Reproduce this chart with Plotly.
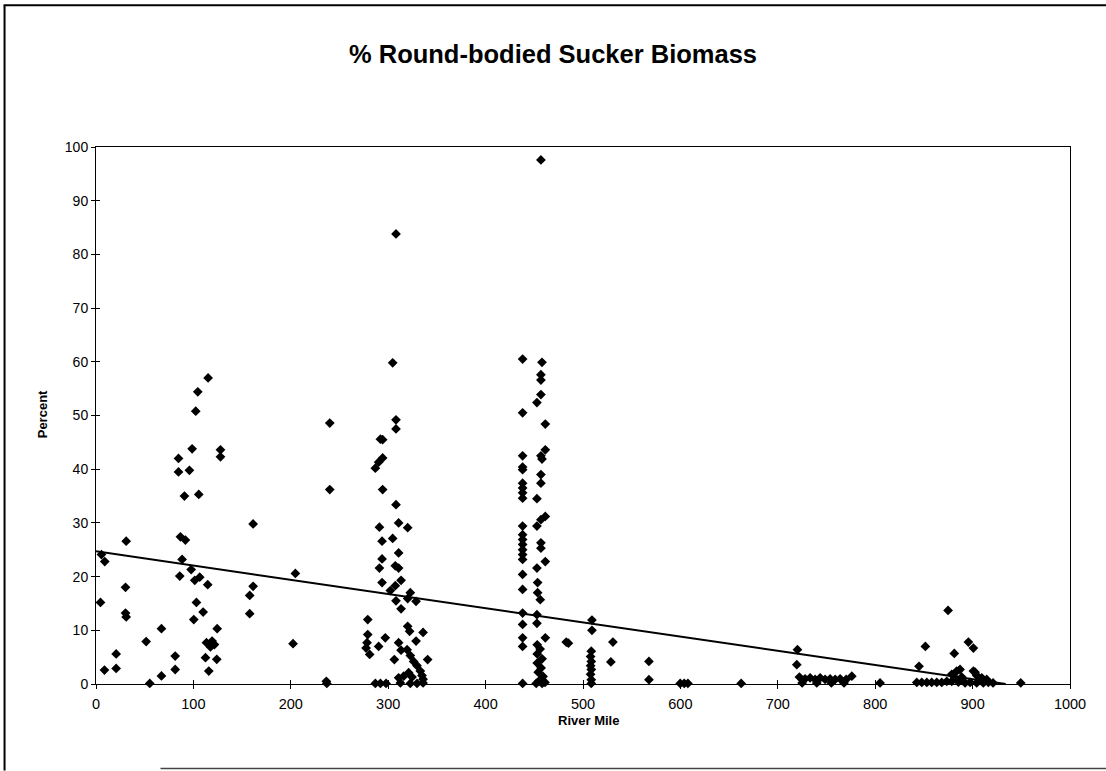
import plotly.graph_objects as go

# ---- data ----
river_mile = [
    5.6, 9, 4.6, 8.7, 20.7, 20.7, 31, 30.3, 30.3, 31, 51.5, 55.2, 67.2, 67.2, 81.3, 81.3,
    86, 86.7, 91.8, 88.4, 97.7, 101.4, 100.4, 103.1,
    115.1, 104.5, 102.4, 98.7, 127.8, 127.8, 84.7, 84.7, 95.9, 90.8, 105.5, 106.5, 114.7,
    110, 124.4, 113.4, 119.2, 121.6, 117.5, 112.4, 124, 115.8,
    161.3, 161.3, 157.8, 157.8,
    204.7, 202.3, 240, 240, 236.5, 237,
    308, 304.6, 308, 308, 292, 294.3, 294.3, 290.2, 286.8, 294.3, 308, 310.7, 320, 291,
    293.7, 304.6, 310.7, 293.7, 291, 307.3, 310.7, 293.7, 313.2, 307.3, 302.2, 322.7, 320,
    328.6, 308, 313.2, 279, 279, 278.3, 297, 320, 322, 335.8, 328.6, 290.2, 277.3, 281,
    310.7, 313.2, 319.4, 322.7, 326.1, 306.3, 340.5, 329.6, 333, 334.7, 310.7, 315.9, 321,
    324.5, 286.8, 292, 297.8, 312.5, 322.7, 329.6, 335.8, 335.8,
    438, 438, 438, 438, 438, 438, 438, 438, 438, 438, 438, 438, 438, 438, 438, 438, 438,
    438, 438, 438, 438, 438, 438,
    456.8, 457.9, 456.8, 456.8, 456.8, 452.7, 461.3, 461.3, 456.8, 457.9, 456.8, 456.8,
    452.7, 461.3, 456.8, 452.7, 456.8, 456.8, 461.3, 452.7, 453.4, 453.4, 456.1, 452.7,
    452.7, 461.3,
    453, 456, 453, 458, 453, 457, 454, 459, 455, 452, 458, 461,
    482.8, 485,
    509.2, 509.2, 530.7, 508.5, 507.8, 508.5, 507.8, 508.5, 507.8, 508.5, 508.5, 528.6,
    567.7, 567.7, 599.8, 603.9, 607.7, 662.4,
    720.2, 719.5, 722.2, 728, 733.2, 738.3, 743.5, 748.6, 753.7, 758.9, 764, 770.2, 776,
    725, 740, 755, 768, 805,
    845, 851.5, 874.8, 881.2, 895.7, 900.8, 887.1, 902.5, 842.7, 847.8, 853, 858, 863.2,
    868.3, 878.6, 883.7, 882, 888.9, 900.8, 904.2, 909.4, 914.5, 873.5, 878.6, 885.4,
    892.3, 897.4, 904.2, 911, 916.2, 921, 949.4,
]
percent = [
    24.1, 22.8, 15.2, 2.6, 5.6, 2.9, 26.6, 18, 13.2, 12.5, 7.9, 0.1, 1.5, 10.3, 5.2, 2.7,
    20.1, 27.4, 26.8, 23.2, 21.3, 19.3, 12.0, 15.2,
    57.0, 54.4, 50.8, 43.8, 43.6, 42.3, 42.0, 39.5, 39.8, 35.0, 35.3, 19.9, 18.5,
    13.4, 10.3, 7.7, 8.0, 7.35, 6.9, 4.9, 4.6, 2.4,
    29.8, 18.2, 16.5, 13.1,
    20.6, 7.5, 48.6, 36.2, 0.5, 0.1,
    83.8, 59.8, 49.2, 47.5, 45.6, 45.5, 42.1, 41.3, 40.2, 36.2, 33.4, 30.0, 29.1, 29.2,
    26.6, 27.1, 24.4, 23.3, 21.6, 22.0, 21.6, 18.9, 19.3, 18.3, 17.4, 17.0, 15.9,
    15.4, 15.5, 14.0, 12.0, 9.2, 7.7, 8.6, 10.75, 9.8, 9.6, 8.0, 7.0, 6.7, 5.5,
    7.7, 6.3, 6.4, 5.3, 4.2, 4.55, 4.55, 3.4, 2.4, 1.6, 1.15, 1.45, 2.1,
    1.3, 0.1, 0.1, 0.1, 0.2, 0.1, 0.1, 0.2, 0.9,
    60.5, 50.5, 42.5, 40.4, 39.9, 37.4, 36.5, 35.6, 34.6, 29.4, 27.8, 26.9, 26.0, 25.0,
    24.1, 23.2, 20.4, 17.6, 13.2, 11.1, 8.6, 7.0, 0.1,
    97.6, 59.9, 57.6, 56.6, 53.9, 52.4, 48.4, 43.6, 42.5, 41.9, 39.0, 37.4,
    34.5, 31.2, 30.6, 29.4, 26.3, 25.3, 22.8, 21.6, 18.9, 17.0, 15.7, 12.9,
    11.3, 8.6,
    7.3, 6.5, 5.6, 4.7, 3.9, 3.0, 2.2, 1.4, 0.6, 0.1, 0.1, 0.3,
    7.8, 7.6,
    11.9, 10.0, 7.8, 6.1, 5.1, 4.2, 3.4, 2.7, 1.8, 0.8, 0.1, 4.1,
    4.2, 0.8, 0.1, 0.1, 0.1, 0.1,
    6.4, 3.6, 1.3, 0.97, 1.15, 0.84, 1.15, 0.84, 0.97, 0.84, 0.97, 0.84, 1.45,
    0.2, 0.2, 0.2, 0.2, 0.2,
    3.3, 7.0, 13.7, 5.7, 7.8, 6.7, 2.7, 2.2, 0.3, 0.3, 0.3, 0.3, 0.3,
    0.3, 1.8, 2.4, 1.15, 1.3, 2.4, 1.6, 1.15, 0.84, 0.5, 0.5, 0.35,
    0.2, 0.3, 0.2, 0.2, 0.3, 0.2, 0.2,
]
trend_mile = [0, 934]
trend_percent = [24.7, 0.0]

x_ticks = list(range(0, 1001, 100))
y_ticks = list(range(0, 101, 10))

FONT = "Liberation Sans, Arial, sans-serif"

# plot-area placement in page pixels
L, R, T, B = 95.5, 1070, 147, 684.5
PW, PH = R - L, B - T


def px(xpix):
    return (xpix - L) / PW


def py(ypix):
    return (B - ypix) / PH


fig = go.Figure()
fig.add_trace(go.Scatter(
    x=river_mile, y=percent, mode="markers",
    marker=dict(symbol="diamond", size=7.5, color="black", line=dict(width=0)),
    cliponaxis=False, showlegend=False, hoverinfo="x+y"))
fig.add_trace(go.Scatter(
    x=trend_mile, y=trend_percent, mode="lines",
    line=dict(color="black", width=2), showlegend=False, hoverinfo="skip"))
# invisible trace on overlay axes (used for the inner half of the cross ticks)
fig.add_trace(go.Scatter(
    x=[500], y=[50], xaxis="x2", yaxis="y2", mode="markers",
    marker=dict(opacity=0), showlegend=False, hoverinfo="skip"))

axis_common = dict(showgrid=False, zeroline=False, color="black")

fig.update_layout(
    width=1106, height=771, autosize=False,
    margin=dict(l=L, r=1106 - R, t=T, b=771 - B),
    paper_bgcolor="white", plot_bgcolor="white",
    font=dict(family=FONT, color="black"),
    title=dict(text="<b>% Round-bodied Sucker Biomass</b>",
               font=dict(family=FONT, size=25.5, color="black"),
               x=0.5, xref="container", xanchor="center",
               y=1 - 54 / 771, yref="container", yanchor="middle"),
    xaxis=dict(range=[0, 1000], tickvals=x_ticks, ticks="outside", ticklen=4,
               tickwidth=1, tickcolor="black", showline=True, linecolor="black",
               linewidth=1, mirror=True, tickfont=dict(family=FONT, size=14.5),
               ticklabelstandoff=3, **axis_common),
    yaxis=dict(range=[0, 100], tickvals=y_ticks, ticks="outside", ticklen=4,
               tickwidth=1, tickcolor="black", showline=True, linecolor="black",
               linewidth=1, mirror=True, tickfont=dict(family=FONT, size=14),
               **axis_common),
    xaxis2=dict(overlaying="x", matches="x", anchor="y2", side="bottom",
                tickvals=x_ticks, ticks="inside", ticklen=4, tickwidth=1,
                tickcolor="black", showticklabels=False, showline=False,
                **axis_common),
    yaxis2=dict(overlaying="y", matches="y", anchor="x2", side="left",
                tickvals=y_ticks, ticks="inside", ticklen=4, tickwidth=1,
                tickcolor="black", showticklabels=False, showline=False,
                **axis_common),
    annotations=[
        dict(text="<b>Percent</b>", xref="paper", yref="paper",
             x=px(42), y=py(415), textangle=-90, showarrow=False,
             font=dict(family=FONT, size=13, color="black"),
             xanchor="center", yanchor="middle"),
        dict(text="<b>River Mile</b>", xref="paper", yref="paper",
             x=px(588), y=py(721), showarrow=False,
             font=dict(family=FONT, size=13, color="black"),
             xanchor="center", yanchor="middle"),
    ],
    shapes=[
        # outer frame of the scanned page
        dict(type="line", xref="paper", yref="paper",
             x0=px(3), x1=px(1106), y0=py(5), y1=py(5),
             line=dict(color="black", width=2)),
        dict(type="line", xref="paper", yref="paper",
             x0=px(4), x1=px(4), y0=py(5), y1=py(771),
             line=dict(color="black", width=2)),
        dict(type="line", xref="paper", yref="paper",
             x0=px(160), x1=px(1106), y0=py(769), y1=py(769),
             line=dict(color="#444444", width=1.5)),
    ],
)

fig.write_html("out.html", config={"displayModeBar": False},
               post_script="document.body.style.margin='0';")
